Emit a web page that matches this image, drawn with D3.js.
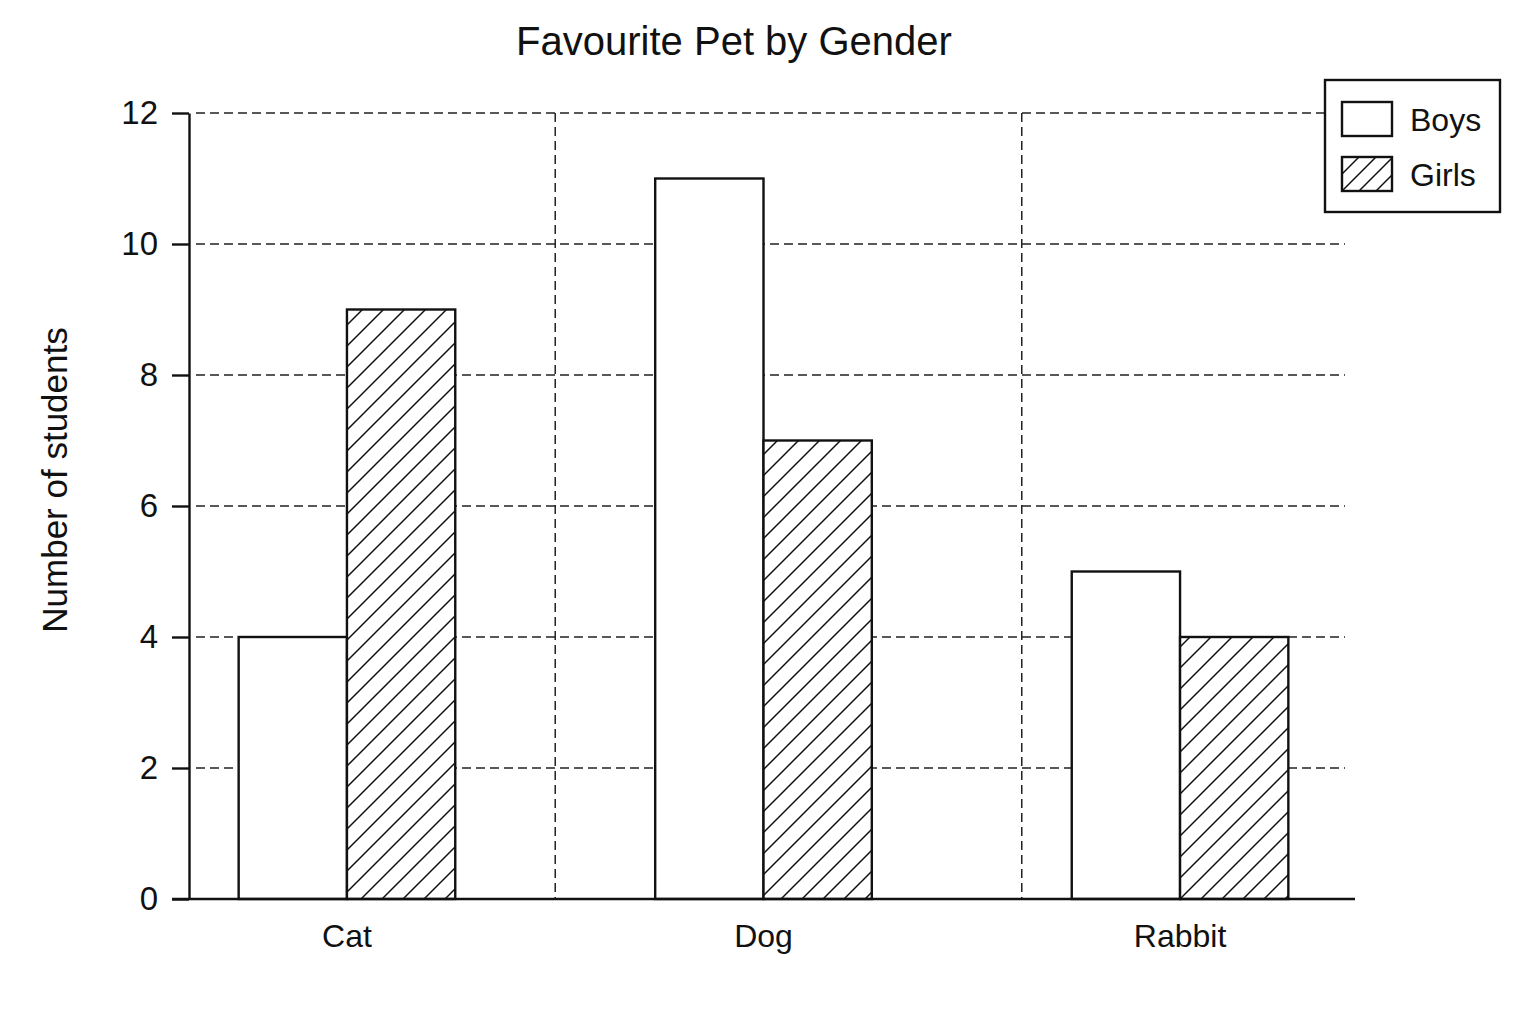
<!DOCTYPE html>
<html>
<head>
<meta charset="utf-8">
<script src="https://cdn.jsdelivr.net/npm/d3@7"></script>
<style>
  html, body { margin: 0; padding: 0; background: #fff; }
  svg { display: block; font-family: "Liberation Sans", Arial, sans-serif; }
</style>
</head>
<body>
<svg id="chart" width="1536" height="1024"></svg>
<script>
// chart values
const categories = ["Cat", "Dog", "Rabbit"];
const series = ["Boys", "Girls"];
const boys = [4, 11, 5];
const girls = [9, 7, 4];
const yTicks = [0, 2, 4, 6, 8, 10, 12];
// vertical grid lines, in category units (Cat = 0, Dog = 1, Rabbit = 2)
const xGridAt = [0.5, 1.62];

const svg = d3.select("#chart");

// scales
const x = d3.scaleLinear().domain([-0.42, 2.42]).range([172, 1355]);
const y = d3.scaleLinear().domain([0, 12]).range([899, 113]);
const barW = 0.26; // in category units

// hatch patterns ("/" lines, one per tile)
const defs = svg.append("defs");
function hatch(id, size) {
  const p = defs.append("pattern")
    .attr("id", id)
    .attr("patternUnits", "userSpaceOnUse")
    .attr("width", size).attr("height", size);
  p.append("rect").attr("width", size).attr("height", size).attr("fill", "#fff");
  p.append("path")
    .attr("d", `M0,${size} L${size},0 M-2,2 L2,-2 M${size - 2},${size + 2} L${size + 2},${size - 2}`)
    .attr("stroke", "#111").attr("stroke-width", 1.5);
}
hatch("hatch", 21);
hatch("hatchLegend", 17);

// title
svg.append("text")
  .attr("x", 734).attr("y", 55)
  .attr("text-anchor", "middle")
  .attr("font-size", "40px")
  .attr("fill", "#111")
  .text("Favourite Pet by Gender");

// horizontal grid lines
svg.append("g")
  .selectAll("line")
  .data(yTicks.filter(d => d > 0))
  .join("line")
  .attr("x1", 196).attr("x2", 1345)
  .attr("y1", d => y(d)).attr("y2", d => y(d))
  .attr("stroke", "#222").attr("stroke-width", 1.5)
  .attr("stroke-dasharray", "9,5");

// vertical grid lines
svg.append("g")
  .selectAll("line")
  .data(xGridAt)
  .join("line")
  .attr("x1", d => x(d)).attr("x2", d => x(d))
  .attr("y1", y(12)).attr("y2", y(0))
  .attr("stroke", "#222").attr("stroke-width", 1.5)
  .attr("stroke-dasharray", "9,5");

// bars
const bars = [];
categories.forEach((c, i) => {
  bars.push({ cat: i, key: "Boys", value: boys[i] });
  bars.push({ cat: i, key: "Girls", value: girls[i] });
});

svg.append("g")
  .selectAll("rect")
  .data(bars)
  .join("rect")
  .attr("x", d => d.key === "Boys" ? x(d.cat - barW) : x(d.cat))
  .attr("width", x(barW) - x(0))
  .attr("y", d => y(d.value))
  .attr("height", d => y(0) - y(d.value))
  .attr("fill", d => d.key === "Boys" ? "#fff" : "url(#hatch)")
  .attr("stroke", "#111").attr("stroke-width", 2.4);

// y axis
const yAxis = svg.append("g")
  .attr("transform", `translate(${x(-0.42) + 17},0)`)
  .call(d3.axisLeft(y).tickValues(yTicks).tickSize(17).tickPadding(14).tickSizeOuter(0));
yAxis.select(".domain").attr("stroke", "#111").attr("stroke-width", 2.4);
yAxis.selectAll(".tick line").attr("stroke", "#111").attr("stroke-width", 2.4);
yAxis.selectAll(".tick text")
  .attr("font-size", "33px").attr("fill", "#111")
  .attr("font-family", "Liberation Sans, Arial, sans-serif");

// x axis line + category labels
svg.append("line")
  .attr("x1", x(-0.42)).attr("x2", x(2.42))
  .attr("y1", y(0)).attr("y2", y(0))
  .attr("stroke", "#111").attr("stroke-width", 2.4);

svg.append("g")
  .selectAll("text")
  .data(categories)
  .join("text")
  .attr("x", (d, i) => x(i))
  .attr("y", 947)
  .attr("text-anchor", "middle")
  .attr("font-size", "32px")
  .attr("fill", "#111")
  .text(d => d);

// y axis label
svg.append("text")
  .attr("transform", "translate(67,480) rotate(-90)")
  .attr("text-anchor", "middle")
  .attr("font-size", "35px")
  .attr("fill", "#111")
  .text("Number of students");

// legend
const legend = svg.append("g").attr("transform", "translate(1325,80)");
legend.append("rect")
  .attr("width", 175).attr("height", 132)
  .attr("fill", "#fff").attr("stroke", "#111").attr("stroke-width", 2.4);

const items = legend.selectAll("g.item")
  .data(series)
  .join("g")
  .attr("class", "item")
  .attr("transform", (d, i) => `translate(17,${22 + i * 55})`);
items.append("rect")
  .attr("width", 50).attr("height", 34)
  .attr("fill", d => d === "Boys" ? "#fff" : "url(#hatchLegend)")
  .attr("stroke", "#111").attr("stroke-width", 2.4);
items.append("text")
  .attr("x", 68).attr("y", 29)
  .attr("font-size", "32px")
  .attr("fill", "#111")
  .text(d => d);
</script>
</body>
</html>
